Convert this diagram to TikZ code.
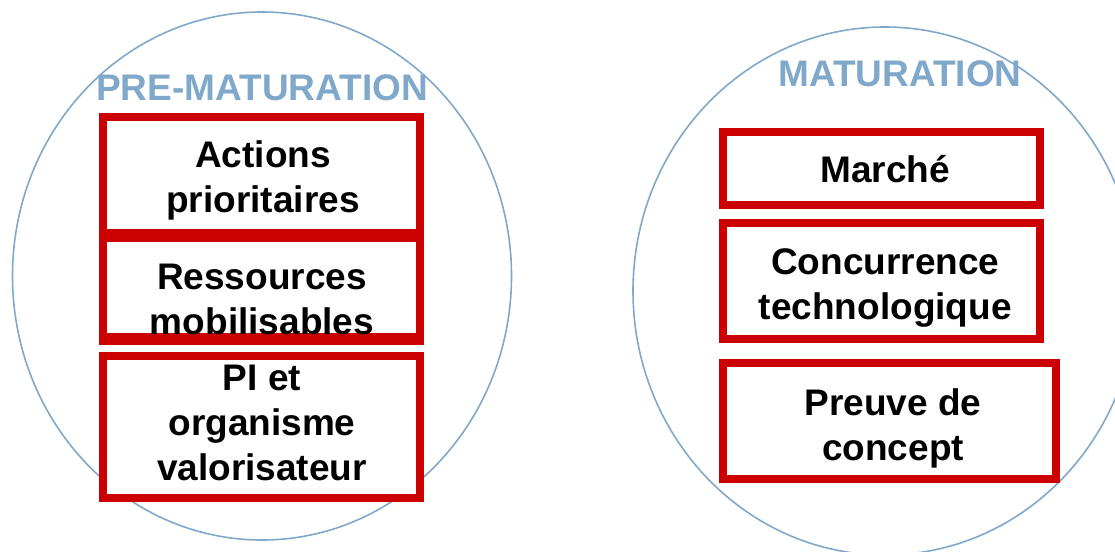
\documentclass[tikz,border=0pt]{standalone}
\usepackage{fontspec}
\setmainfont{Liberation Sans}
\usetikzlibrary{shapes.geometric}
\definecolor{boxred}{HTML}{CC0000}
\definecolor{ringblue}{HTML}{7FA8CA}
\tikzset{
  ring/.style={draw=ringblue, line width=1.6pt, ellipse, inner sep=0pt},
  panel/.style={draw=boxred, fill=white, line width=8pt, rectangle, inner sep=0pt},
  panelline/.style={draw=boxred, line width=8pt},
  lbl/.style={font=\bfseries\fontsize{37}{45}\selectfont, align=center, inner sep=0pt, anchor=base},
  phase/.style={font=\bfseries\fontsize{37}{44}\selectfont, text=ringblue, inner sep=0pt, anchor=base}
}
\begin{document}
\begin{tikzpicture}[x=1pt,y=-1pt]
\useasboundingbox (0,0) rectangle (1115,551);
% circles
\node[ring, minimum width=499pt, minimum height=528pt] (e1) at (262,276) {};
\node[ring, minimum width=504pt, minimum height=528pt] (e2) at (885,291) {};
% titles
\node[phase] (h1) at (262,100.8) {PRE-MATURATION};
\node[phase] (h2) at (900,86.5) {MATURATION};
% left boxes
\node[panel, minimum width=317pt, minimum height=115.7pt] (b1) at (261.9,175.2) {};
\node[panel, minimum width=317pt, minimum height=98.7pt] (b2) at (261.9,287.4) {};
\node[panel, minimum width=317pt, minimum height=142.5pt] (b3) at (261.9,426.8) {};
% right boxes
\node[panel, minimum width=317pt, minimum height=72.7pt] (b4) at (881.8,168.4) {};
\node[panel, minimum width=317pt, minimum height=115.9pt] (b5) at (881.8,281.3) {};
\node[panel, minimum width=332.5pt, minimum height=116.7pt] (b6) at (889.6,420.9) {};
% texts (anchor base = baseline of the last line)
\node[lbl] (t1) at (263,212) {Actions\\prioritaires};
\node[lbl] (t2) at (262,334) {Ressources\\mobilisables};
\node[lbl] (t3) at (262,480.5) {PI et\\organisme\\valorisateur};
\node[lbl] (t4) at (885,182.8) {Marché};
\node[lbl] (t5) at (885.3,319.5) {Concurrence\\technologique};
\node[lbl] (t6) at (893,460.8) {Preuve de\\concept};
% border of the second box lies over its text
\draw[panelline] (b2.south west) -- (b2.south east);
\end{tikzpicture}
\end{document}
